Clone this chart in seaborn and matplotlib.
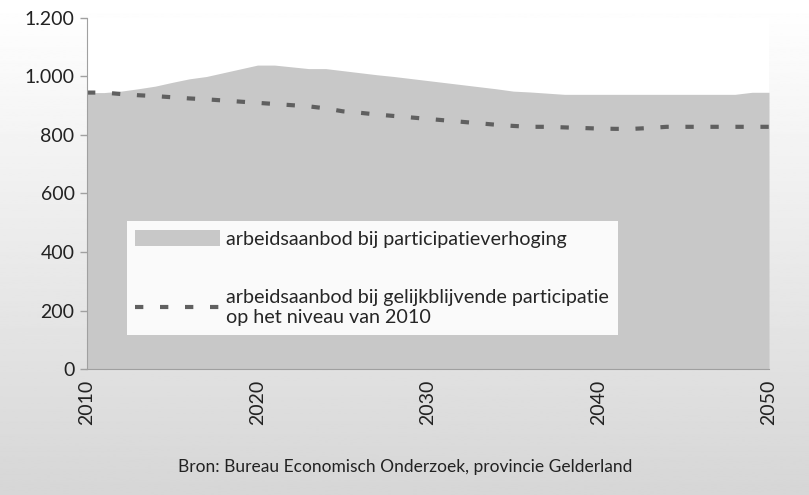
import numpy as np
import pandas as pd
import matplotlib.pyplot as plt
import matplotlib.ticker as mticker
from matplotlib.patches import Patch
from matplotlib.lines import Line2D
import seaborn as sns

jaren = list(range(2010, 2051))

# arbeidsaanbod bij participatieverhoging (vlak)
verhoging = [945, 945, 950, 958, 967, 980, 992, 1000, 1013, 1026,
             1039, 1039, 1033, 1027, 1027, 1020, 1013, 1006, 1000, 993,
             986, 979, 972, 965, 958, 950, 947, 943, 939, 939,
             939, 939, 939, 939, 939, 939, 939, 939, 939, 946, 946]

# arbeidsaanbod bij gelijkblijvende participatie (stippellijn)
gelijk = [945, 945, 940, 936, 933, 929, 925, 922, 918, 914,
          910, 906, 902, 898, 891, 881, 876, 870, 865, 860,
          855, 850, 845, 840, 835, 831, 828, 828, 826, 824,
          822, 821, 821, 824, 828, 828, 828, 828, 828, 828, 828]

x_ticks = [2010, 2020, 2030, 2040, 2050]
y_ticks = [0, 200, 400, 600, 800, 1000, 1200]

df = pd.DataFrame({'jaar': jaren, 'verhoging': verhoging, 'gelijk': gelijk})

sns.set_style('white')
plt.rcParams['font.family'] = ['Lato', 'DejaVu Sans']

fig = plt.figure(figsize=(8.09, 4.95), dpi=100)

# achtergrond met verloop
bg = fig.add_axes([0, 0, 1, 1], zorder=-10)
grad = np.linspace(1.0, 0.84, 256).reshape(-1, 1)
bg.imshow(grad, aspect='auto', cmap='gray', vmin=0, vmax=1, extent=[0, 1, 0, 1])
bg.axis('off')

ax = fig.add_axes([87 / 809, 1 - 369 / 495, (769 - 87) / 809, (369 - 18) / 495])
ax.set_facecolor('white')

ax.fill_between(df['jaar'], 0, df['verhoging'], color='#c8c8c8', linewidth=0)
sns.lineplot(data=df, x='jaar', y='gelijk', ax=ax, color='#606060',
             linewidth=3, dashes=False)
ax.lines[-1].set_dashes((2, 4))
ax.lines[-1].set_dash_capstyle('butt')

ax.set_xlim(2010, 2050)
ax.set_ylim(0, 1200)
ax.set_xticks(x_ticks)
ax.set_yticks(y_ticks)
ax.yaxis.set_major_formatter(mticker.FuncFormatter(lambda v, p: f'{int(v):,}'.replace(',', '.')))
ax.set_xlabel('')
ax.set_ylabel('')
for lab in ax.get_xticklabels():
    lab.set_rotation(90)
ax.tick_params(axis='x', length=0, labelsize=14, colors='#222222', pad=8)
ax.tick_params(axis='y', length=5, width=1, color='#a0a0a0', labelsize=14,
               labelcolor='#222222', direction='out', left=True, pad=4)
sns.despine(ax=ax, top=True, right=True)
ax.spines['left'].set_color('#a0a0a0')
ax.spines['bottom'].set_color('#a0a0a0')

handles = [Patch(facecolor='#c8c8c8', edgecolor='none'),
           Line2D([0], [0], color='#606060', linewidth=3, dashes=(2, 4), dash_capstyle='butt')]
labels = ['arbeidsaanbod bij participatieverhoging',
          'arbeidsaanbod bij gelijkblijvende participatie\nop het niveau van 2010']
leg = ax.legend(handles, labels, loc='lower left', bbox_to_anchor=(0.058, 0.097),
                frameon=True, fancybox=False, fontsize=14.2, handlelength=4.3,
                handleheight=0.9, labelspacing=2.1, borderpad=0.45,
                handletextpad=0.3, borderaxespad=0)
leg.get_frame().set_facecolor('#fafafa')
leg.get_frame().set_edgecolor('none')
leg.get_frame().set_alpha(1)

fig.text(405 / 809, 1 - 467 / 495, 'Bron: Bureau Economisch Onderzoek, provincie Gelderland',
         ha='center', va='center', fontsize=12.5, color='#222222')

plt.savefig('out.png', dpi=100)
